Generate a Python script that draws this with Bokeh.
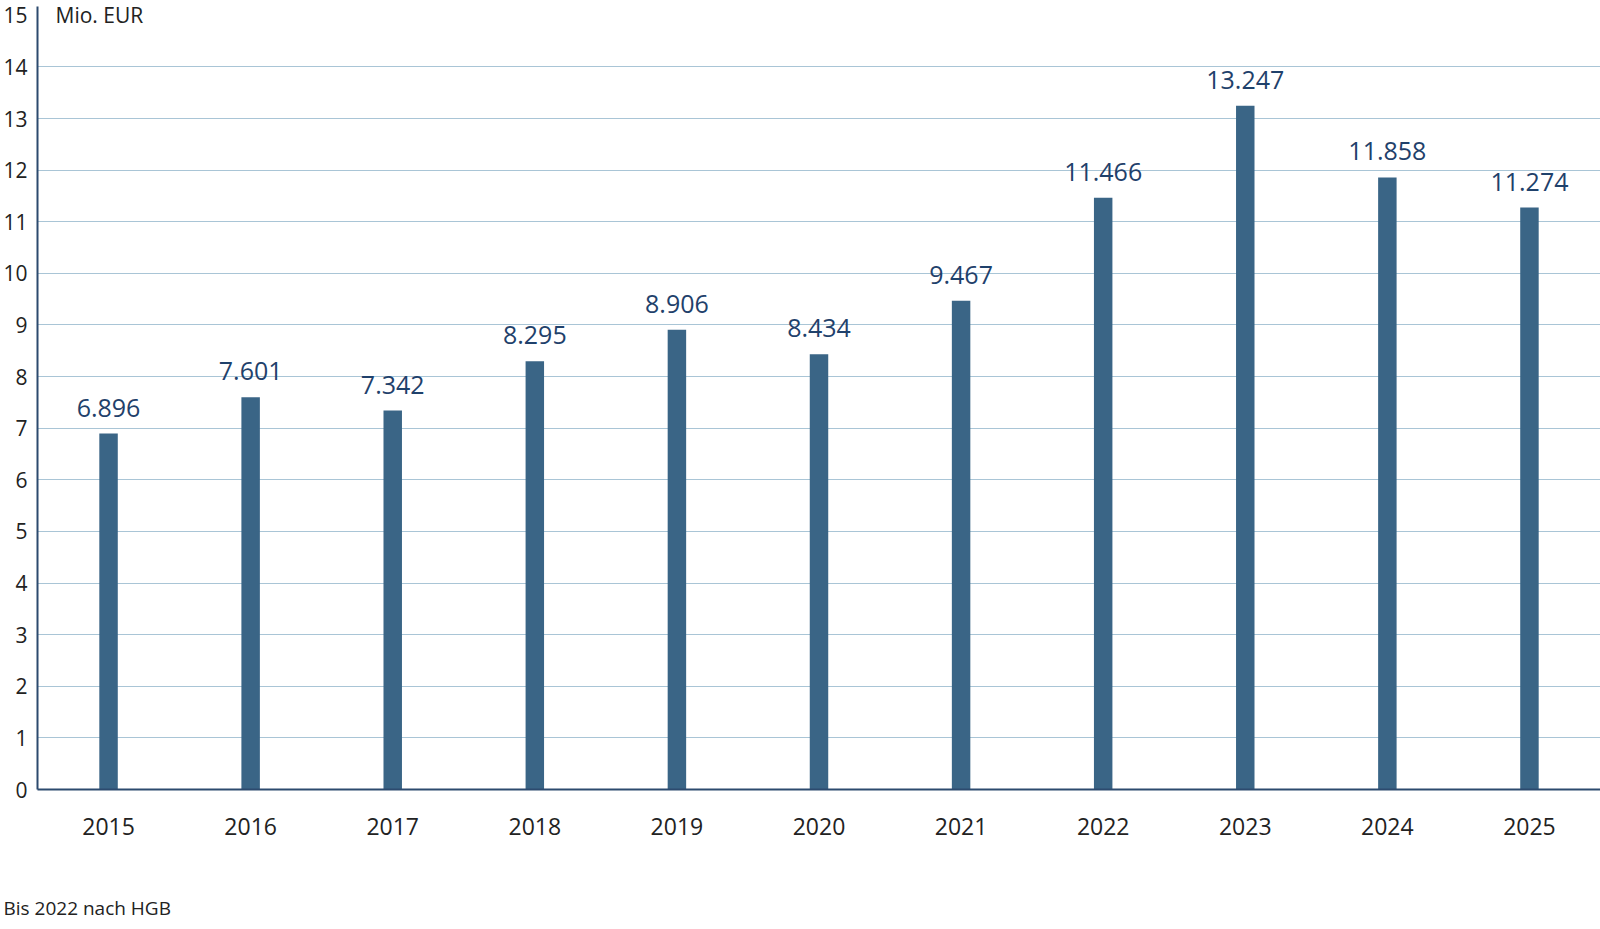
from bokeh.plotting import figure
from bokeh.models import FactorRange, Range1d, FixedTicker, Label, ColumnDataSource, Title
from bokeh.core.properties import value
from bokeh.embed import file_html
from bokeh.resources import INLINE

years = ["2015", "2016", "2017", "2018", "2019", "2020", "2021", "2022", "2023", "2024", "2025"]
revenue = [6.896, 7.601, 7.342, 8.295, 8.906, 8.434, 9.467, 11.466, 13.247, 11.858, 11.274]
labels = ["6.896", "7.601", "7.342", "8.295", "8.906", "8.434", "9.467", "11.466", "13.247", "11.858", "11.274"]
y_ticks = list(range(0, 16))
grid_ticks = list(range(0, 15))

FONT = "Open Sans"
BAR = "#3a6586"
NAVY = "#1f416b"
AXIS = "#2c4a6e"
GRID = "#a9c5d6"
TEXT = "#222222"

src = ColumnDataSource(dict(year=years, v=revenue, lab=labels))

p = figure(
    width=1600, height=929,
    x_range=FactorRange(*years, range_padding=0),
    y_range=Range1d(0, 15.17),
    output_backend="svg", toolbar_location=None,
    min_border_left=37, min_border_right=0, min_border_top=6, min_border_bottom=140,
    outline_line_color=None,
)

p.vbar(x="year", top="v", width=0.13, source=src, color=BAR, line_color=None)
p.text(x="year", y="v", text="lab", source=src, y_offset=-17,
       text_align="center", text_baseline="bottom",
       text_font=value(FONT), text_font_size="25px", text_color=NAVY)

# grid
p.xgrid.grid_line_color = None
p.ygrid.ticker = FixedTicker(ticks=grid_ticks)
p.ygrid.grid_line_color = GRID
p.ygrid.grid_line_width = 1.2

# y axis
p.yaxis.ticker = FixedTicker(ticks=y_ticks)
p.yaxis.axis_line_color = AXIS
p.yaxis.axis_line_width = 2
p.yaxis.major_tick_line_color = None
p.yaxis.minor_tick_line_color = None
p.yaxis.major_label_standoff = 4
p.yaxis.major_label_text_font = FONT
p.yaxis.major_label_text_font_size = "21px"
p.yaxis.major_label_text_color = TEXT

# x axis
p.xaxis.axis_line_color = AXIS
p.xaxis.axis_line_width = 2
p.xaxis.major_tick_line_color = None
p.xaxis.minor_tick_line_color = None
p.xaxis.major_label_standoff = 22
p.xaxis.major_label_text_font = FONT
p.xaxis.major_label_text_font_size = "23px"
p.xaxis.major_label_text_color = TEXT

# unit caption
p.add_layout(Label(x=18, y=775, x_units="screen", y_units="screen", text="Mio. EUR",
                   text_font=FONT, text_font_size="21px", text_color=TEXT,
                   text_baseline="middle"))

# blank band between the year labels and the footnote
p.add_layout(Title(text=" ", standoff=34, text_font=FONT, text_font_size="10px"), "below")

# footnote
p.add_layout(Title(text="Bis 2022 nach HGB", align="left", offset=-34, standoff=10,
                   text_font=FONT, text_font_size="19px", text_font_style="normal",
                   text_color=TEXT), "below")

open("out.html", "w").write(file_html(p, INLINE))
